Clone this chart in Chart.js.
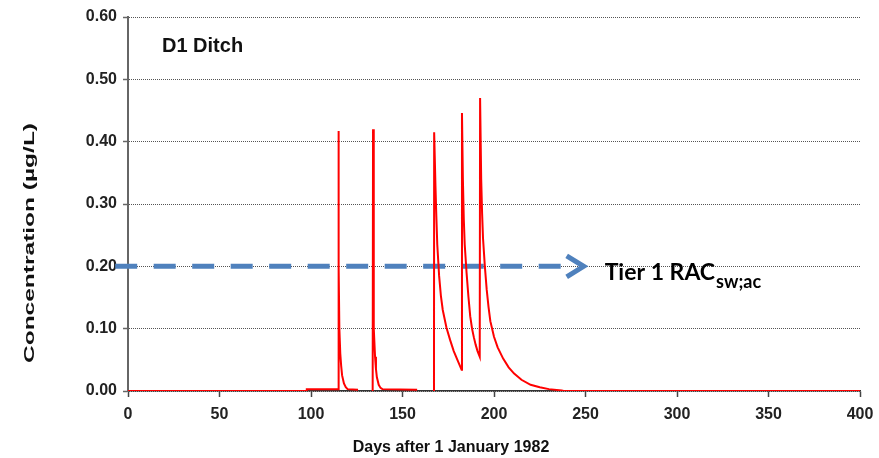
<!DOCTYPE html>
<html>
<head>
<meta charset="utf-8">
<script src="https://cdn.jsdelivr.net/npm/chart.js@4/dist/chart.umd.min.js"></script>
<style>
  html, body { margin: 0; padding: 0; background: #fff; }
  #wrap { width: 879px; height: 458px; }
</style>
</head>
<body>
<div id="wrap"><canvas id="c" width="879" height="458"></canvas></div>
<script>
// D1 Ditch, concentration vs days (null = gap in the line)
var days = [0, 97.6, 97.7, 114.8, 114.9, 115.3, 115.5, 116, 116.5, 117, 118, 119, 120, 125.7, 126,
  133.7, 133.9, 134.2, 134.4, 135, 135.5, 136, 137, 138, 139, 158, 159,
  167.2, 167.3, 168, 168.5, 169, 170, 171, 172, 174, 176, 178, 180, 182.3,
  182.5, 183, 183.5, 184, 185, 186, 187, 188, 189, 190, 191, 192.2,
  192.4, 193, 193.5, 194, 195, 196, 197, 198, 200, 202, 205, 208, 211, 215, 220, 225, 230, 237, 238, 400];
var conc = [0, 0, 0.003, 0.003, 0.417, 0.2, 0.1, 0.06, 0.04, 0.025, 0.012, 0.006, 0.003, 0.002, null,
  0, 0.42, 0.2, 0.1, 0.055, 0.035, 0.022, 0.01, 0.005, 0.003, 0.002, null,
  0, 0.415, 0.33, 0.28, 0.235, 0.185, 0.152, 0.13, 0.102, 0.082, 0.064, 0.05, 0.034,
  0.446, 0.34, 0.275, 0.235, 0.19, 0.152, 0.12, 0.1, 0.086, 0.074, 0.064, 0.055,
  0.47, 0.34, 0.285, 0.245, 0.2, 0.163, 0.135, 0.112, 0.087, 0.07, 0.052, 0.038, 0.028, 0.018, 0.01, 0.006, 0.003, 0.001, 0, 0];

var racLevel = 0.20;      // Tier 1 RAC sw;ac
var arrowFrom = -7;       // days
var arrowTo = 249;
var racLabel = 'Tier 1 RAC';
var racSub = 'sw;ac';
var panelTitle = 'D1 Ditch';
var xTitle = 'Days after 1 January 1982';
var yTitle = 'Concentration (µg/L)';

var points = days.map(function (d, i) { return { x: d, y: conc[i] }; });

var overlay = {
  id: 'overlay',
  beforeDatasetsDraw: function (chart) {
    var ctx = chart.ctx, x = chart.scales.x, y = chart.scales.y;
    var yy = y.getPixelForValue(racLevel);
    var x0 = x.getPixelForValue(arrowFrom), x1 = x.getPixelForValue(arrowTo);
    ctx.save();
    ctx.strokeStyle = '#4F81BD';
    ctx.lineWidth = 5;
    ctx.setLineDash([22, 16.5]);
    ctx.beginPath();
    ctx.moveTo(x0, yy);
    ctx.lineTo(x1 - 18, yy);
    ctx.stroke();
    ctx.setLineDash([]);
    ctx.lineJoin = 'miter';
    ctx.beginPath();
    ctx.moveTo(x1 - 17, yy - 10.5);
    ctx.lineTo(x1, yy);
    ctx.lineTo(x1 - 17, yy + 10.5);
    ctx.stroke();
    ctx.restore();
  },
  afterDraw: function (chart) {
    var ctx = chart.ctx, x = chart.scales.x, y = chart.scales.y;
    var yy = y.getPixelForValue(racLevel);
    ctx.save();
    ctx.fillStyle = '#000';
    // RAC label
    ctx.textBaseline = 'alphabetic';
    ctx.font = 'bold 23px Lato';
    var lx = x.getPixelForValue(arrowTo) + 21;
    ctx.fillText(racLabel, lx, yy + 14);
    var w = ctx.measureText(racLabel).width;
    ctx.font = 'bold 18px Lato';
    ctx.fillText(racSub, lx + w + 1, yy + 22);
    // panel title
    ctx.fillStyle = '#111';
    ctx.font = 'bold 20px "Liberation Sans", Arial';
    ctx.fillText(panelTitle, chart.chartArea.left + 34, chart.chartArea.top + 35);
    // x axis title
    ctx.font = 'bold 16px "Liberation Sans", Arial';
    ctx.textAlign = 'center';
    ctx.textBaseline = 'middle';
    ctx.fillText(xTitle, 451, 448);
    // y axis title
    ctx.translate(30, 243);
    ctx.rotate(-Math.PI / 2);
    ctx.font = 'bold 15px "Liberation Sans", Arial';
    var tw = ctx.measureText(yTitle).width;
    ctx.scale(240 / tw, 1);
    ctx.fillText(yTitle, 0, 0);
    ctx.restore();
  }
};

var ctx = document.getElementById('c').getContext('2d');
var myChart = new Chart(ctx, {
  type: 'line',
  data: {
    datasets: [{
      data: points,
      borderColor: '#FF0000',
      borderWidth: 2,
      pointRadius: 0,
      tension: 0,
      spanGaps: false,
      fill: false,
    }],
  },
  options: {
    responsive: false,
    animation: false,
    events: [],
    layout: { padding: { top: 17, right: 19, left: 0, bottom: 0 } },
    plugins: { legend: { display: false }, tooltip: { enabled: false } },
    scales: {
      x: {
        type: 'linear',
        min: 0,
        max: 400,
        afterFit: function (s) { s.height = 67; s.paddingLeft = 0; s.paddingRight = 0; },
        ticks: {
          stepSize: 50,
          padding: 8,
          color: '#222',
          font: { family: '"Liberation Sans", Arial', size: 16, weight: 'bold' },
          maxRotation: 0,
        },
        grid: { drawOnChartArea: false, drawTicks: true, tickLength: 6, tickColor: '#444', tickWidth: 1.5 },
        border: { color: '#333', width: 1.5 },
      },
      y: {
        min: 0,
        max: 0.6,
        afterFit: function (s) { s.width = 128; s.paddingTop = 0; s.paddingBottom = 0; },
        ticks: {
          stepSize: 0.1,
          padding: 6,
          color: '#222',
          font: { family: '"Liberation Sans", Arial', size: 16, weight: 'bold' },
          callback: function (v) { return v.toFixed(2); },
        },
        grid: { color: '#555', lineWidth: 1, tickLength: 5, tickColor: '#666', tickWidth: 1.5, tickBorderDash: [] },
        border: { color: '#666', width: 2, dash: [1, 1] },
      },
    },
  },
  plugins: [overlay],
});
</script>
</body>
</html>
